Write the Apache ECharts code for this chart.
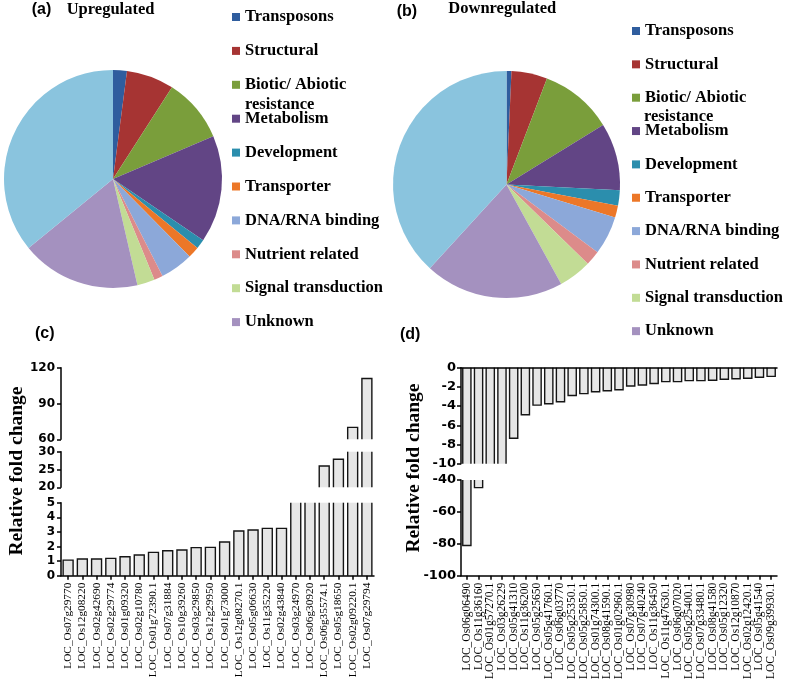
<!DOCTYPE html>
<html>
<head>
<meta charset="utf-8">
<script src="https://cdn.jsdelivr.net/npm/echarts@6/dist/echarts.min.js"></script>
<style>
html,body{margin:0;padding:0;background:#fff;}
#chart{width:787px;height:682px;}
</style>
</head>
<body>
<div id="chart"></div>
<script>
// ---------- data ----------
const pieCategories = ['Transposons','Structural','Biotic/ Abiotic resistance','Metabolism','Development','Transporter','DNA/RNA binding','Nutrient related','Signal transduction','Unknown','Unclassified'];
const legendNames = pieCategories.slice(0, 10);
const upShares   = [2.05, 7.05, 9.5, 15.9, 1.4, 1.7, 4.9, 1.3, 2.6, 17.7, 35.9];
const downShares = [0.7, 5.1, 10.4, 9.6, 2.2, 1.7, 5.5, 2.1, 4.7, 19.8, 38.2];
const pieColors = ['#2F5D9E','#A63433','#7A9E3B','#624585','#2B8EAD','#EC7728','#8CA8D9','#DC8B8A','#C2DC95','#A491BF','#8AC4DE'];

const upGenes = ['LOC_Os07g29770','LOC_Os12g08220','LOC_Os02g42690','LOC_Os02g29774','LOC_Os01g09320','LOC_Os02g10780','LOC_Os01g72390.1','LOC_Os07g31884','LOC_Os10g39260','LOC_Os03g29850','LOC_Os12g29950','LOC_Os01g73000','LOC_Os12g08270.1','LOC_Os05g06630','LOC_Os11g35220','LOC_Os02g43840','LOC_Os03g24970','LOC_Os06g30920','LOC_Os06g35574.1','LOC_Os05g18650','LOC_Os02g09220.1','LOC_Os07g29794'];
const upFold = [1.07,1.14,1.14,1.19,1.3,1.42,1.6,1.71,1.76,1.92,1.94,2.31,3.06,3.13,3.24,3.24,12,16,26,27.9,70,111];
// broken axis segments: [min, max, interval]
const upSegments = [[60,120,30],[20,30,5],[0,5,1]];

const downGenes = ['LOC_Os06g06490','LOC_Os11g36160','LOC_Os01g57270.1','LOC_Os03g26229','LOC_Os05g41310','LOC_Os11g36200','LOC_Os05g25650','LOC_Os05g41760.1','LOC_Os06g03770','LOC_Os05g25350.1','LOC_Os05g25850.1','LOC_Os01g74300.1','LOC_Os08g41590.1','LOC_Os01g02960.1','LOC_Os07g30980','LOC_Os07g40240','LOC_Os11g36450','LOC_Os11g47630.1','LOC_Os06g07020','LOC_Os05g25400.1','LOC_Os07g33480.1','LOC_Os08g41580','LOC_Os05g12320','LOC_Os12g10870','LOC_Os02g12420.1','LOC_Os05g41540','LOC_Os09g39930.1'];
const downFold = [-81,-44.8,-22,-16,-7.35,-4.9,-3.9,-3.75,-3.55,-2.9,-2.7,-2.5,-2.4,-2.3,-1.9,-1.8,-1.65,-1.45,-1.45,-1.35,-1.35,-1.3,-1.2,-1.15,-1.1,-1.0,-0.9];
const downSegments = [[-10,0,2],[-100,-40,20]];

// ---------- helpers ----------
const SERIF = '"Liberation Serif", "Times New Roman", serif';
const SANS = '"Liberation Sans", Arial, sans-serif';
const AXSANS = '"DejaVu Sans", sans-serif';

function barRender(ratio) {
  return function (params, api) {
    const i = api.value(0), v = api.value(1);
    const pv = api.coord([i, v]);
    const p0 = api.coord([i, 0]);
    const w = api.size([1, 0])[0] * ratio;
    const cs = params.coordSys;
    const gTop = cs.y, gBot = cs.y + cs.height;
    const yv = pv[1], y0 = p0[1];
    const lo = Math.min(yv, y0), hi = Math.max(yv, y0);
    const a = Math.max(lo, gTop), b = Math.min(hi, gBot);
    if (b - a < 0.5) return null;
    const xl = pv[0] - w / 2, xr = pv[0] + w / 2;
    const st = {stroke: '#151515', lineWidth: 1.4, fill: null};
    const children = [{type: 'rect', shape: {x: xl, y: a, width: w, height: b - a}, style: {fill: '#e6e6e6'}}];
    const endVisible = yv >= gTop - 0.5 && yv <= gBot + 0.5;
    if (endVisible) {
      const baseY = (yv < y0) ? b : a;
      children.push({type: 'polyline', shape: {points: [[xl, baseY], [xl, yv], [xr, yv], [xr, baseY]]}, style: st});
    } else {
      children.push({type: 'line', shape: {x1: xl, y1: a, x2: xl, y2: b}, style: st});
      children.push({type: 'line', shape: {x1: xr, y1: a, x2: xr, y2: b}, style: st});
    }
    return {type: 'group', children: children};
  };
}

function legendFormatter(name) {
  if (name === 'Biotic/ Abiotic resistance') return 'Biotic/ Abiotic';
  return name;
}

function makeLegend(left, top, gap) {
  return {
    orient: 'vertical', left: left, top: top, padding: 0, itemGap: gap,
    itemWidth: 8, itemHeight: 8, icon: 'rect', selectedMode: false,
    data: legendNames, formatter: legendFormatter,
    textStyle: {fontFamily: SERIF, fontWeight: 'bold', fontSize: 16.5, color: '#000', lineHeight: 19}
  };
}

function pieSeries(center, radius, shares) {
  return {
    type: 'pie', center: center, radius: radius, startAngle: 90, clockwise: true,
    silent: true, label: {show: false}, labelLine: {show: false},
    itemStyle: {borderWidth: 0},
    data: pieCategories.map((n, i) => ({name: n, value: shares[i]}))
  };
}

const axisLineStyle = {color: '#000', width: 1.5};

function valueAxis(gi, seg, fontSize, margin) {
  return {
    type: 'value', gridIndex: gi, min: seg[0], max: seg[1], interval: seg[2],
    splitLine: {show: false},
    axisLine: {show: true, lineStyle: axisLineStyle},
    axisTick: {show: true, length: 4, lineStyle: axisLineStyle},
    axisLabel: {fontFamily: AXSANS, fontWeight: 'bold', fontSize: fontSize, color: '#000', margin: margin}
  };
}
function hiddenCat(gi, cats) {
  return {type: 'category', gridIndex: gi, data: cats, show: false};
}
function labelCat(gi, cats, fontSize) {
  return {
    type: 'category', gridIndex: gi, data: cats, position: 'bottom', z: 3,
    axisLine: {show: true, onZero: false, lineStyle: axisLineStyle},
    axisTick: {show: true, alignWithLabel: true, length: 4, lineStyle: axisLineStyle},
    axisLabel: {interval: 0, rotate: 90, margin: 7, fontFamily: SERIF, fontSize: fontSize, color: '#000'}
  };
}
function customBars(k, values) {
  return {
    type: 'custom', xAxisIndex: k, yAxisIndex: k, silent: true,
    renderItem: barRender(0.7), encode: {x: 0, y: 1},
    data: values.map((v, i) => [i, v])
  };
}

function txt(x, y, text, font, rot) {
  return {
    type: 'text', x: x, y: y, rotation: rot || 0, silent: true,
    style: {text: text, font: font, fill: '#000', align: rot ? 'center' : 'left', verticalAlign: 'middle'}
  };
}

const option = {
  animation: false,
  color: pieColors,
  legend: [makeLegend(232, 7.5, 14.9), makeLegend(632, 21.5, 14.35)],
  grid: [
    {left: 61, top: 367.7, width: 313, height: 71.6},
    {left: 61, top: 451.7, width: 313, height: 35.6},
    {left: 61, top: 502.7, width: 313, height: 73},
    {left: 461, top: 367.7, width: 316, height: 96},
    {left: 461, top: 480, width: 316, height: 96.7}
  ],
  xAxis: [
    hiddenCat(0, upGenes),
    hiddenCat(1, upGenes),
    labelCat(2, upGenes, 11.3),
    {type: 'category', gridIndex: 3, data: downGenes, position: 'top', z: 3,
     axisLine: {show: true, onZero: false, lineStyle: axisLineStyle},
     axisTick: {show: false}, axisLabel: {show: false}},
    labelCat(4, downGenes, 11.5)
  ],
  yAxis: [
    valueAxis(0, upSegments[0], 12, 6),
    valueAxis(1, upSegments[1], 12, 6),
    valueAxis(2, upSegments[2], 12, 6),
    valueAxis(3, downSegments[0], 13, 5),
    valueAxis(4, downSegments[1], 13, 5)
  ],
  series: [
    pieSeries([113, 179], 109, upShares),
    pieSeries([506.5, 184.5], 113.5, downShares),
    customBars(0, upFold),
    customBars(1, upFold),
    customBars(2, upFold),
    customBars(3, downFold),
    customBars(4, downFold)
  ],
  graphic: [
    txt(31.7, 10, '(a)', 'bold 16px ' + SANS),
    txt(66.7, 9.3, 'Upregulated', 'bold 16.5px ' + SERIF),
    txt(396.7, 11.7, '(b)', 'bold 16px ' + SANS),
    txt(448.3, 8.5, 'Downregulated', 'bold 16.5px ' + SERIF),
    txt(245, 104.5, 'resistance', 'bold 16.5px ' + SERIF),
    txt(644, 116.5, 'resistance', 'bold 16.5px ' + SERIF),
    txt(35, 334, '(c)', 'bold 16px ' + SANS),
    txt(400, 335, '(d)', 'bold 16px ' + SANS),
    txt(17, 471, 'Relative fold change', 'bold 19.5px ' + SERIF, Math.PI / 2),
    txt(414, 468, 'Relative fold change', 'bold 19.5px ' + SERIF, Math.PI / 2)
  ]
};

const chart = echarts.init(document.getElementById('chart'), null, {renderer: 'canvas'});
chart.setOption(option);
</script>
</body>
</html>
